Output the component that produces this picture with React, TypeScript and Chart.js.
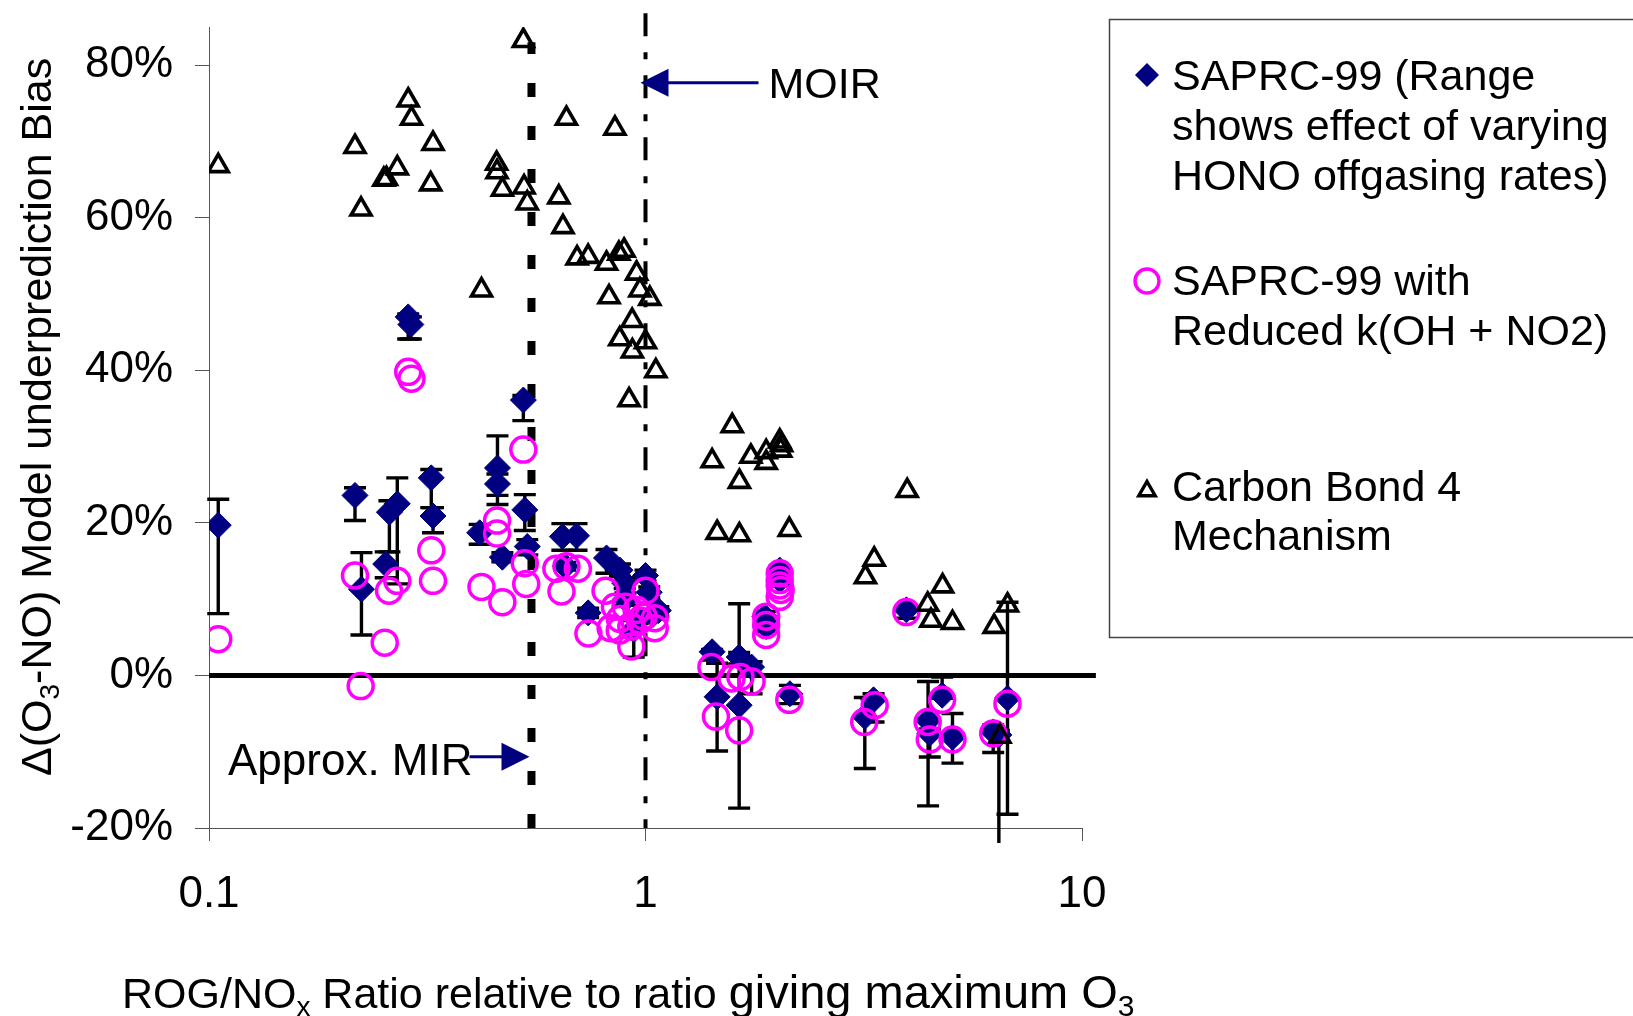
import { useEffect, useRef } from 'react';
import { Chart, registerables } from 'chart.js';

Chart.register(...registerables);

const FONT = '"Liberation Sans", Arial, Helvetica, sans-serif';

// SAPRC-99 base mechanism: ROG/NOx ratio (relative to MOIR), bias (%), and the
// low/high ends of the range from varying HONO offgasing rates.
const saprcRatio = [
  0.105, 0.216, 0.2235, 0.254, 0.259, 0.27, 0.286, 0.29, 0.323, 0.326,
  0.417, 0.458, 0.458, 0.47, 0.525, 0.529, 0.536, 0.645, 0.695, 0.655,
  0.739, 0.814, 0.874, 0.9, 0.94, 0.96, 1.0, 1.02, 1.07, 1.421,
  1.459, 1.639, 1.639, 1.75, 1.877, 1.89, 2.03, 2.03, 2.142, 3.18,
  3.33, 3.96, 4.44, 4.48, 4.782, 5.05, 6.26, 6.45, 6.75, 0.896,
  1.04,
];
const saprcBias = [
  19.7, 23.6, 11.3, 14.6, 21.4, 22.5, 47.0, 46.0, 25.9, 20.9,
  18.7, 27.2, 25.1, 15.5, 36.1, 21.7, 16.9, 18.2, 18.3, 14.3,
  8.2, 15.4, 13.8, 10.0, 6.0, 7.5, 13.1, 10.9, 8.5, 3.1,
  -2.8, 2.4, -3.9, 1.1, 7.7, 6.4, 13.8, 12.5, -2.4, -5.4,
  -3.2, 8.6, -5.9, -7.6, -2.6, -8.1, -7.4, -7.8, -3.0, 12.1,
  8.0,
];
const saprcLow = [
  8.1, 20.3, 5.3, 12.8, 16.2, 12.0, 44.1, 44.1, 22.0, 18.7,
  17.2, 22.4, 23.6, 14.9, 33.4, 19.0, 15.8, 16.4, 16.4, 13.8,
  7.6, 13.4, 13.0, 9.2, 2.4, 6.8, 12.4, 10.2, 7.8, 2.0,
  -9.9, 1.5, -17.4, -2.4, 7.0, 5.8, 13.2, 11.9, -3.7, -12.2,
  -6.1, 7.5, -17.1, -10.7, -3.0, -11.5, -10.1, -25.0, -18.2, 11.4,
  7.4,
];
const saprcHigh = [
  23.1, 24.6, 16.1, 16.2, 22.9, 25.9, 47.4, 47.0, 27.0, 22.0,
  19.8, 31.4, 26.4, 16.1, 36.7, 23.7, 17.8, 19.9, 19.9, 14.8,
  8.8, 16.5, 14.6, 10.8, 7.2, 8.2, 13.8, 11.6, 9.0, 3.4,
  1.6, 3.0, 9.4, 1.8, 8.4, 7.0, 14.4, 13.1, -1.3, -2.9,
  -2.4, 9.0, -0.8, -7.0, -0.2, -5.0, -6.5, -7.2, 9.6, 12.8,
  8.6,
];

// SAPRC-99 with reduced k(OH + NO2)
const reducedRatio = [
  0.105, 0.216, 0.2226, 0.2527, 0.2585, 0.27, 0.286, 0.291, 0.323, 0.326,
  0.421, 0.457, 0.457, 0.47, 0.525, 0.529, 0.533, 0.625, 0.642, 0.659,
  0.7, 0.74, 0.81, 0.851, 0.832, 0.874, 0.873, 0.9, 0.954, 0.97,
  0.928, 0.928, 1.0, 0.99, 1.05, 1.05, 1.416, 1.574, 1.65, 1.75,
  1.45, 1.639, 1.89, 1.89, 1.89, 2.03, 2.03, 2.03, 2.04, 2.03,
  2.135, 3.17, 3.35, 3.96, 4.43, 4.48, 4.78, 5.05, 6.26, 6.75,
];
const reducedBias = [
  4.75, 13.1, -1.4, 4.3, 11.1, 12.4, 39.8, 38.9, 16.4, 12.4,
  11.6, 20.3, 18.6, 9.6, 29.6, 14.7, 12.0, 14.0, 11.0, 14.3,
  14.0, 5.5, 11.1, 9.0, 6.2, 7.4, 5.9, 9.0, 8.6, 7.2,
  6.4, 3.8, 11.1, 7.7, 7.5, 6.2, 1.1, -0.4, -0.2, -0.8,
  -5.4, -7.2, 7.7, 6.6, 5.3, 13.4, 12.5, 11.8, 11.2, 10.3,
  -3.2, -6.1, -3.9, 8.3, -6.1, -8.4, -3.2, -8.4, -7.6, -3.7,
];

// Carbon Bond 4 mechanism
const cb4Ratio = [
  0.105, 0.216, 0.223, 0.2515, 0.255, 0.27, 0.286, 0.291, 0.322, 0.326,
  0.421, 0.456, 0.457, 0.47, 0.525, 0.527, 0.536, 0.633, 0.647, 0.659,
  0.697, 0.739, 0.814, 0.825, 0.851, 0.869, 0.873, 0.893, 0.917, 0.932,
  0.933, 0.954, 0.971, 1.0, 1.023, 1.056, 1.421, 1.459, 1.58, 1.641,
  1.641, 1.743, 1.89, 1.89, 2.03, 2.05, 2.04, 2.135, 3.19, 3.341,
  3.977, 4.43, 4.507, 4.793, 5.05, 6.29, 6.75, 6.485,
];
const cb4Bias = [
  66.8, 69.3, 61.1, 65.0, 65.1, 66.5, 75.4, 73.0, 64.4, 69.7,
  50.5, 67.1, 66.0, 63.7, 83.2, 64.0, 61.9, 62.7, 58.8, 73.0,
  54.7, 54.9, 54.0, 49.6, 71.7, 55.3, 44.1, 55.7, 36.1, 46.5,
  42.5, 52.7, 50.5, 43.7, 49.4, 39.9, 28.1, 18.7, 32.7, 25.4,
  18.4, 28.7, 29.3, 27.9, 30.7, 30.2, 29.5, 19.1, 12.9, 15.2,
  24.2, 9.3, 7.2, 11.7, 6.9, 6.4, 9.2, -8.0,
];

const xTickValues = [0.1, 1, 10];
const yTickValues = [-20, 0, 20, 40, 60, 80];

// Reference lines and their annotation positions
const MIR_RATIO = 0.548;
const MOIR_RATIO = 1;
const zeroLineEnd = 10.76;
const mirLineTop = 83;
const moirLineTop = 86.8;
const moirArrowBias = 77.7;
const mirArrowBias = -10.66;

const legendEntries = [
  ['SAPRC-99 (Range', 'shows effect of varying', 'HONO offgasing rates)'],
  ['SAPRC-99 with', 'Reduced k(OH + NO2)'],
  ['Carbon Bond 4', 'Mechanism'],
];

const NAVY = '#000080';
const MAGENTA = '#FF00FF';

type Run = { text: string; size: number; dy?: number };

function drawRuns(ctx: CanvasRenderingContext2D, runs: Run[], x: number, y: number) {
  let cx = x;
  for (const r of runs) {
    ctx.font = `${r.size}px ${FONT}`;
    ctx.fillText(r.text, cx, y + (r.dy || 0));
    cx += ctx.measureText(r.text).width;
  }
  return cx;
}

const rangeBarsPlugin = {
  id: 'honoRangeBars',
  beforeDatasetsDraw(chart: any) {
    const { ctx, chartArea, scales } = chart;
    const xs = scales.x;
    const ys = scales.y;
    ctx.save();
    ctx.beginPath();
    ctx.rect(chartArea.left - 20, chartArea.top - 20, chartArea.right - chartArea.left + 40, chartArea.bottom - chartArea.top + 35);
    ctx.clip();
    ctx.strokeStyle = '#000';
    ctx.lineWidth = 3.4;
    const cap = 11;
    saprcRatio.forEach((r, i) => {
      const px = xs.getPixelForValue(r);
      const lo = ys.getPixelForValue(saprcLow[i]);
      const hi = ys.getPixelForValue(saprcHigh[i]);
      ctx.beginPath();
      ctx.moveTo(px, lo);
      ctx.lineTo(px, hi);
      ctx.moveTo(px - cap, lo);
      ctx.lineTo(px + cap, lo);
      ctx.moveTo(px - cap, hi);
      ctx.lineTo(px + cap, hi);
      ctx.stroke();
    });
    ctx.restore();
  },
};

function arrowHead(ctx: CanvasRenderingContext2D, tipX: number, y: number, dir: number) {
  ctx.beginPath();
  ctx.moveTo(tipX, y);
  ctx.lineTo(tipX + dir * 28, y - 14);
  ctx.lineTo(tipX + dir * 28, y + 14);
  ctx.closePath();
  ctx.fill();
}

const figureTextPlugin = {
  id: 'figureText',
  afterDraw(chart: any) {
    const { ctx, scales } = chart;
    const xs = scales.x;
    const ys = scales.y;
    ctx.save();
    ctx.fillStyle = '#000';
    ctx.textAlign = 'left';
    ctx.textBaseline = 'alphabetic';

    // Y axis title
    ctx.save();
    ctx.translate(51, 776);
    ctx.rotate(-Math.PI / 2);
    drawRuns(ctx, [
      { text: 'Δ(O', size: 43 },
      { text: '3', size: 28, dy: 8 },
      { text: '-NO) Model underprediction Bias', size: 43 },
    ], 0, 0);
    ctx.restore();

    // X axis title (two sizes, as in the original caption)
    const end1 = drawRuns(ctx, [
      { text: 'ROG/NO', size: 43 },
      { text: 'x', size: 28, dy: 8 },
      { text: ' Ratio relative to ratio', size: 43 },
    ], 122, 1008);
    ctx.font = `43px ${FONT}`;
    const gap = ctx.measureText(' ').width;
    drawRuns(ctx, [
      { text: 'giving maximum O', size: 47 },
      { text: '3', size: 30, dy: 8 },
    ], end1 + gap, 1008);

    // MOIR arrow and label
    const moirX = xs.getPixelForValue(MOIR_RATIO) - 5;
    const moirY = ys.getPixelForValue(moirArrowBias);
    ctx.strokeStyle = NAVY;
    ctx.fillStyle = NAVY;
    ctx.lineWidth = 3;
    ctx.beginPath();
    ctx.moveTo(moirX + 20, moirY);
    ctx.lineTo(moirX + 118, moirY);
    ctx.stroke();
    arrowHead(ctx, moirX, moirY, 1);
    ctx.fillStyle = '#000';
    ctx.font = `43px ${FONT}`;
    ctx.fillText('MOIR', moirX + 128, moirY + 15);

    // Approx. MIR label and arrow
    const mirX = xs.getPixelForValue(MIR_RATIO) - 2;
    const mirY = ys.getPixelForValue(mirArrowBias);
    ctx.font = `44px ${FONT}`;
    ctx.fillText('Approx. MIR', 228, mirY + 18);
    ctx.strokeStyle = NAVY;
    ctx.fillStyle = NAVY;
    ctx.beginPath();
    ctx.moveTo(mirX - 60, mirY);
    ctx.lineTo(mirX - 20, mirY);
    ctx.stroke();
    arrowHead(ctx, mirX, mirY, -1);

    // Legend box
    ctx.strokeStyle = '#444';
    ctx.lineWidth = 1.5;
    ctx.strokeRect(1109.5, 19.5, 620, 618);

    const textX = 1172;
    const baselines = [[90, 140, 190], [295, 345], [501, 550]];
    ctx.fillStyle = '#000';
    ctx.font = `43px ${FONT}`;
    legendEntries.forEach((lines, i) => {
      lines.forEach((line, j) => ctx.fillText(line, textX, baselines[i][j]));
    });

    // Legend markers
    const mx = 1147;
    ctx.fillStyle = NAVY;
    ctx.beginPath();
    ctx.moveTo(mx - 12, 75);
    ctx.lineTo(mx, 63);
    ctx.lineTo(mx + 12, 75);
    ctx.lineTo(mx, 87);
    ctx.closePath();
    ctx.fill();

    ctx.strokeStyle = MAGENTA;
    ctx.lineWidth = 3.4;
    ctx.beginPath();
    ctx.arc(mx, 281, 12, 0, Math.PI * 2);
    ctx.stroke();

    ctx.strokeStyle = '#000';
    ctx.lineWidth = 3.4;
    const tr = 9.5;
    const ty = 491;
    ctx.beginPath();
    ctx.moveTo(mx, ty - tr);
    ctx.lineTo(mx + tr * Math.sin((2 * Math.PI) / 3), ty + tr / 2);
    ctx.lineTo(mx - tr * Math.sin((2 * Math.PI) / 3), ty + tr / 2);
    ctx.closePath();
    ctx.stroke();

    ctx.restore();
  },
};

const zip = (xs: number[], ys: number[]) => xs.map((x, i) => ({ x, y: ys[i] }));

export default function App() {
  const canvasRef = useRef<HTMLCanvasElement>(null);

  useEffect(() => {
    document.body.style.margin = '0';
    const canvas = canvasRef.current;
    if (!canvas) return;

    const axisFont = { family: FONT, size: 44 };

    const chart = new Chart(canvas, {
      type: 'scatter',
      data: {
        datasets: [
          {
            label: 'Carbon Bond 4 Mechanism',
            data: zip(cb4Ratio, cb4Bias),
            pointStyle: 'triangle',
            pointRadius: 11.5,
            pointBackgroundColor: 'rgba(0,0,0,0)',
            pointBorderColor: '#000',
            pointBorderWidth: 3.6,
            backgroundColor: 'rgba(0,0,0,0)',
            borderColor: '#000',
            borderWidth: 3.6,
            order: 0,
          },
          {
            label: 'SAPRC-99 with Reduced k(OH + NO2)',
            data: zip(reducedRatio, reducedBias),
            pointStyle: 'circle',
            pointRadius: 12.5,
            pointBackgroundColor: 'rgba(0,0,0,0)',
            pointBorderColor: MAGENTA,
            pointBorderWidth: 3.5,
            backgroundColor: 'rgba(0,0,0,0)',
            borderColor: MAGENTA,
            borderWidth: 3.5,
            order: 1,
          },
          {
            label: 'SAPRC-99',
            data: zip(saprcRatio, saprcBias),
            pointStyle: 'rectRot',
            pointRadius: 13,
            pointBackgroundColor: NAVY,
            pointBorderColor: NAVY,
            pointBorderWidth: 1,
            backgroundColor: NAVY,
            borderColor: NAVY,
            borderWidth: 1,
            order: 2,
          },
          {
            label: 'zero',
            data: [{ x: 0.1, y: 0 }, { x: zeroLineEnd, y: 0 }],
            showLine: true,
            pointRadius: 0,
            borderColor: '#000',
            borderWidth: 5,
            clip: false as any,
            order: 3,
          },
          {
            label: 'MIR',
            data: [{ x: MIR_RATIO, y: -20 }, { x: MIR_RATIO, y: mirLineTop }],
            showLine: true,
            pointRadius: 0,
            borderColor: '#000',
            borderWidth: 8,
            borderDash: [14, 29],
            clip: false as any,
            order: 4,
          },
          {
            label: 'MOIR',
            data: [{ x: MOIR_RATIO, y: moirLineTop }, { x: MOIR_RATIO, y: -20 }],
            showLine: true,
            pointRadius: 0,
            borderColor: '#000',
            borderWidth: 4,
            borderDash: [23, 16, 7, 16],
            clip: false as any,
            order: 4,
          },
        ],
      },
      options: {
        responsive: false,
        animation: false,
        devicePixelRatio: 1,
        events: [],
        layout: { padding: { left: 0, top: 27, right: 551, bottom: 0 } },
        plugins: {
          legend: { display: false },
          tooltip: { enabled: false },
        },
        scales: {
          x: {
            type: 'logarithmic',
            min: 0.1,
            max: 10,
            afterBuildTicks: (s: any) => {
              s.ticks = xTickValues.map((v) => ({ value: v }));
            },
            afterFit: (s: any) => {
              s.height = 188;
              s.paddingLeft = 0;
              s.paddingRight = 0;
            },
            ticks: {
              autoSkip: false,
              maxRotation: 0,
              minRotation: 0,
              padding: 27,
              color: '#000',
              font: axisFont,
              callback: (v: any) => String(v),
            },
            grid: { drawOnChartArea: false, drawTicks: true, tickLength: 13, color: '#555', lineWidth: 1 },
            border: { display: true, color: '#555', width: 1 },
          },
          y: {
            type: 'linear',
            min: -20,
            max: 85,
            afterBuildTicks: (s: any) => {
              s.ticks = yTickValues.map((v) => ({ value: v }));
            },
            afterFit: (s: any) => {
              s.width = 209;
              s.paddingTop = 0;
              s.paddingBottom = 0;
            },
            ticks: {
              padding: 22,
              color: '#000',
              font: axisFont,
              callback: (v: any) => `${v}%`,
            },
            grid: { drawOnChartArea: false, drawTicks: true, tickLength: 14, color: '#555', lineWidth: 1 },
            border: { display: true, color: '#555', width: 1 },
          },
        },
      },
      plugins: [rangeBarsPlugin, figureTextPlugin],
    } as any);

    return () => chart.destroy();
  }, []);

  return (
    <div style={{ width: 1633, height: 1016, background: '#fff', overflow: 'hidden' }}>
      <canvas ref={canvasRef} width={1633} height={1016} style={{ display: 'block' }} />
    </div>
  );
}
